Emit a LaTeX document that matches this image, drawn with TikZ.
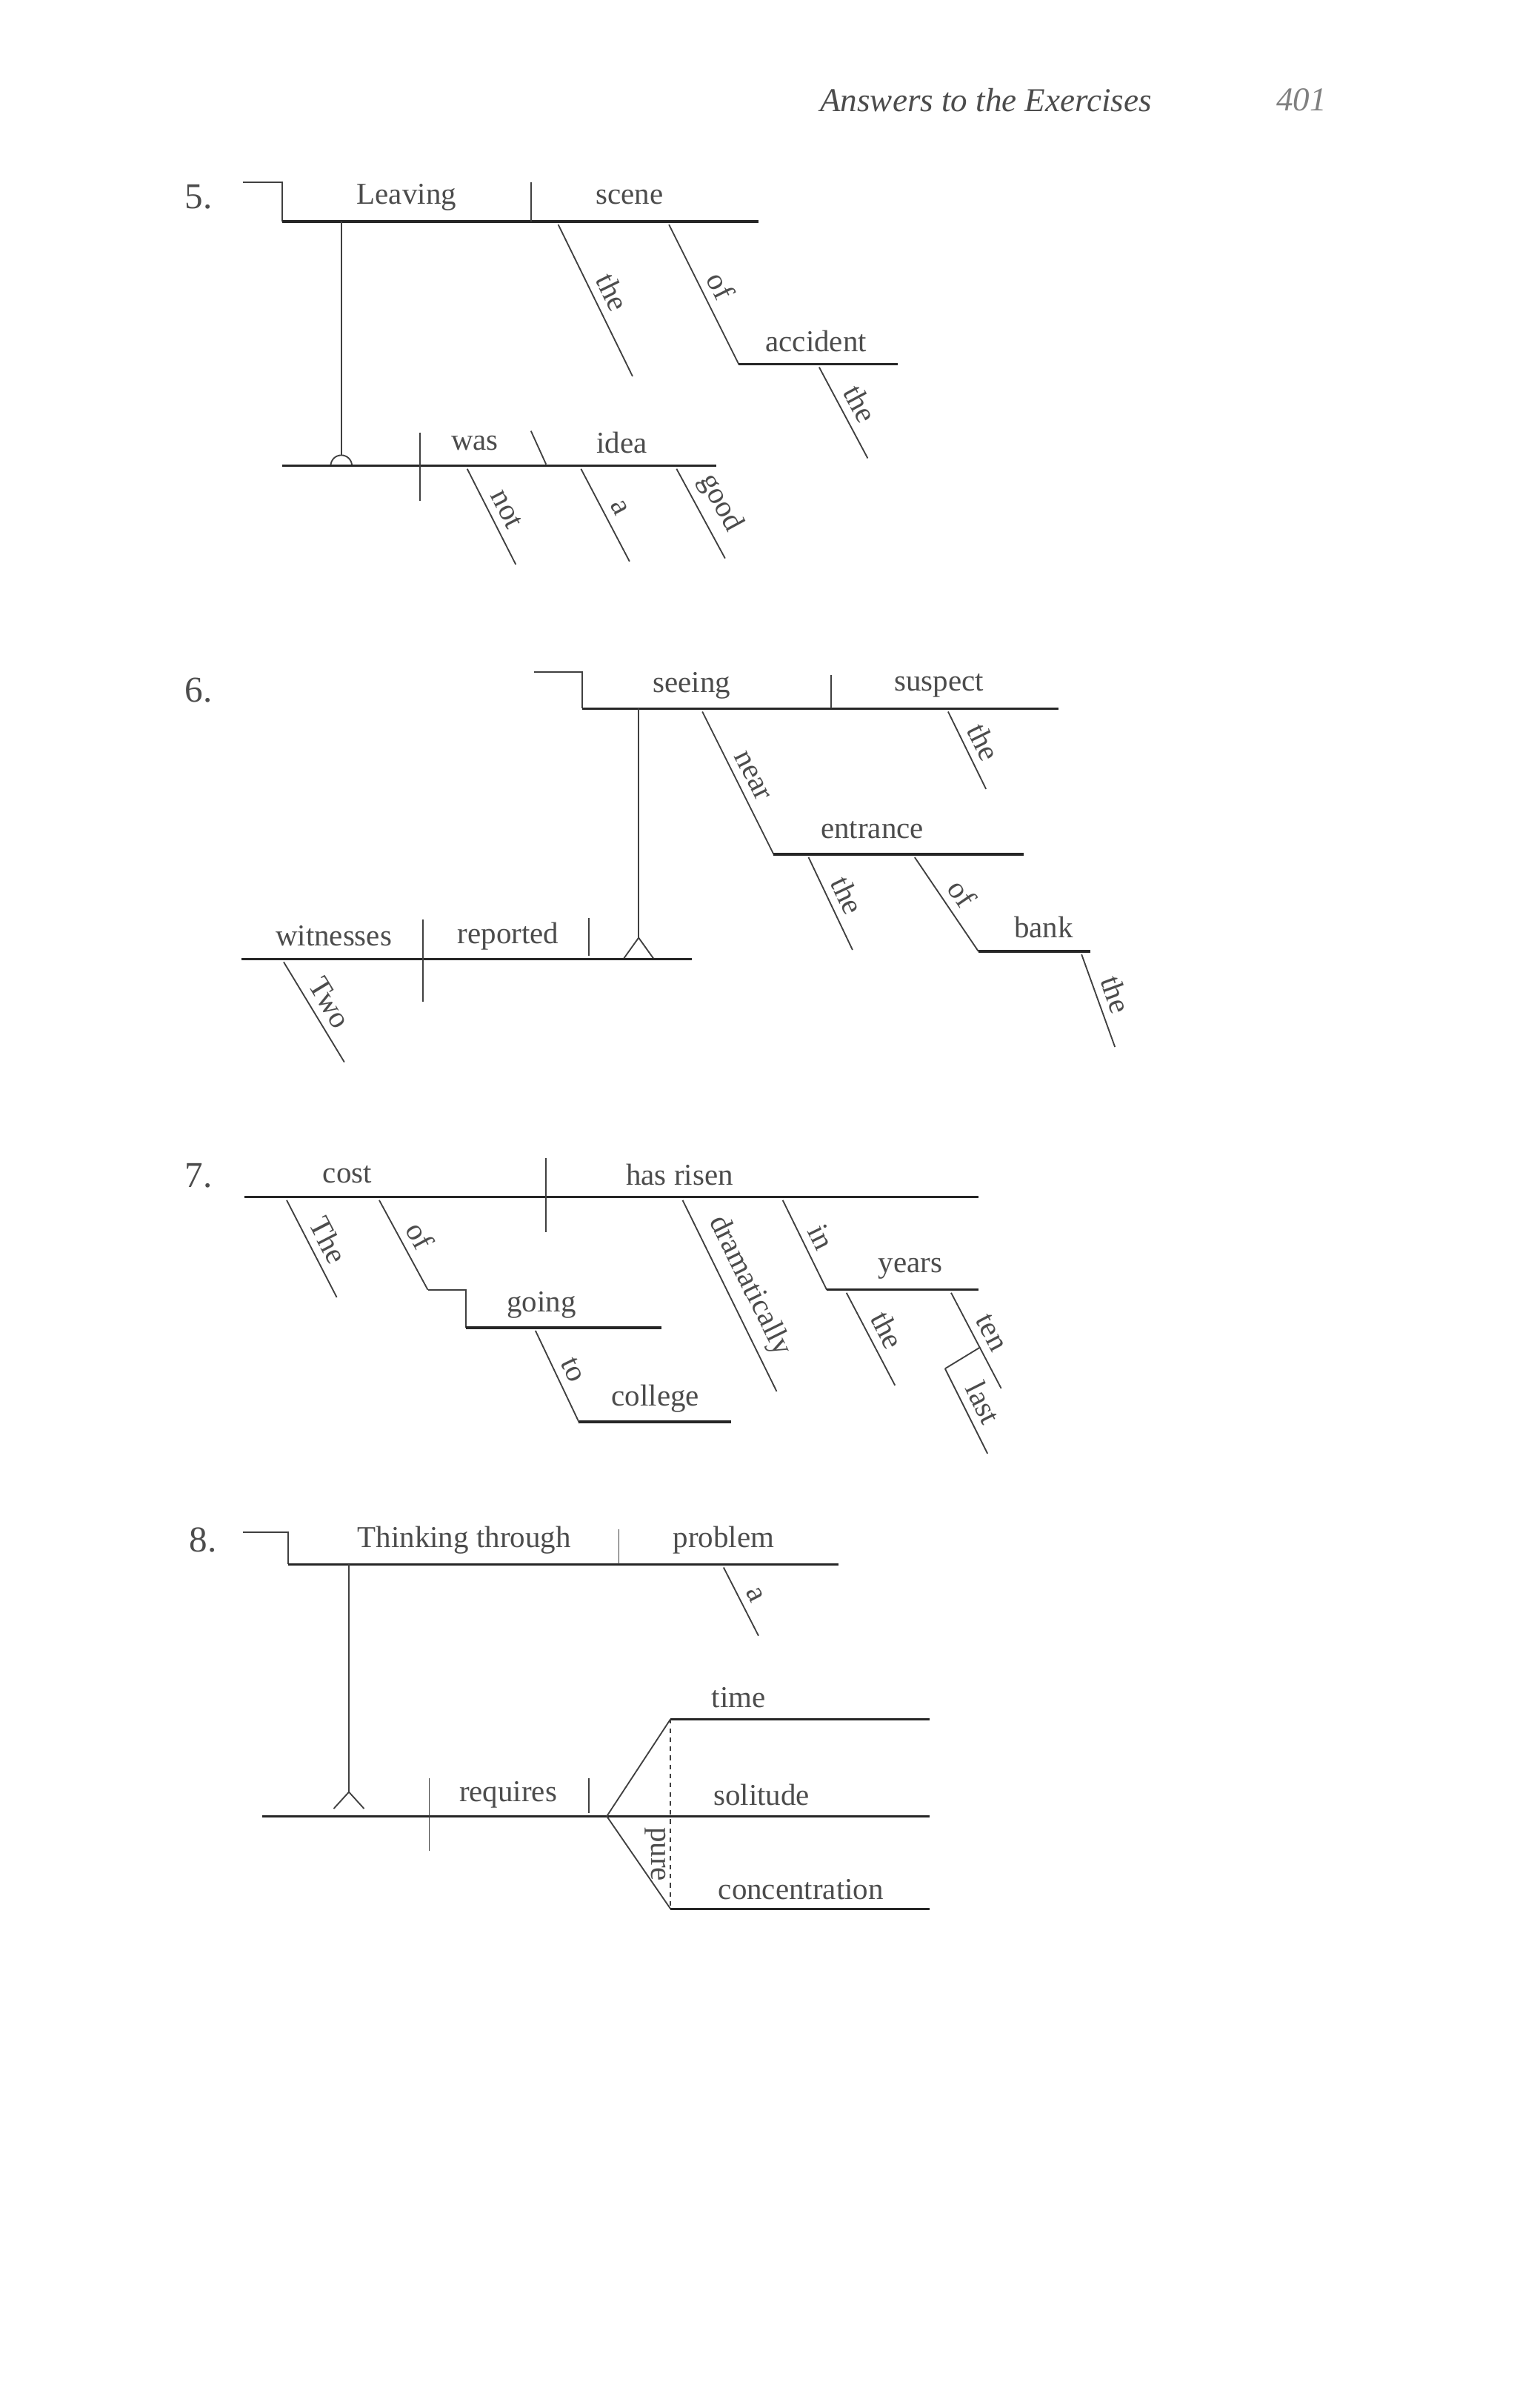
\documentclass[tikz,border=0pt]{standalone}
\usepackage{fontspec}
\setmainfont{Liberation Serif}
\begin{document}
\begin{tikzpicture}[x=1pt,y=-1pt,
  base/.style={line width=1.6pt,draw=black!85},
  thin/.style={line width=0.9pt,draw=black!75},
  w/.style={font=\fontsize{20}{20}\selectfont,text=black!70,inner sep=0pt},
  dg/.style={thin},
  lab/.style={w,sloped,above=5pt,midway}]
\useasboundingbox[fill=white] (0,0) rectangle (1000,1587);
\node[w,font=\itshape\fontsize{22}{22}\selectfont] (hd) at (650,66) {Answers to the Exercises};
\node[w,font=\itshape\fontsize{22}{22}\selectfont,text=black!50] (pg) at (858,66) {401};
% ---------- 5
\node[w,font=\fontsize{24}{24}\selectfont] (n5) at (131,130) {5.};
\draw[thin] (160,120) -- (186,120) -- (186,146);
\draw[base] (186,146) -- (500,146);
\node[w] (leaving) at (268,130) {Leaving};
\draw[thin] (350,120) -- (350,146);
\node[w] (scene) at (415,130) {scene};
\draw[dg] (368,148) -- (417,248) node[lab]{the};
\draw[dg] (441,148) -- (487,240) node[lab]{of};
\draw[base] (487,240) -- (592,240);
\node[w] (accident) at (538,225) {accident};
\draw[dg] (540,242) -- (572,302) node[lab]{the};
\draw[thin] (225,146) -- (225,300);
\draw[thin] (218,307) arc (180:360:7);
\draw[base] (186,307) -- (472,307);
\draw[thin] (277,285) -- (277,330);
\node[w] (was) at (313,292) {was};
\draw[thin] (350,284) -- (360,306);
\node[w] (idea) at (410,292) {idea};
\draw[dg] (308,309) -- (340,372) node[lab]{not};
\draw[dg] (383,309) -- (415,370) node[lab]{a};
\draw[dg] (446,309) -- (478,368) node[lab]{good};
% ---------- 6
\node[w,font=\fontsize{24}{24}\selectfont] (n6) at (131,455) {6.};
\draw[thin] (352,443) -- (384,443) -- (384,467);
\draw[base] (384,467) -- (698,467);
\node[w] (seeing) at (456,452) {seeing};
\draw[thin] (548,445) -- (548,467);
\node[w] (suspect) at (619,452) {suspect};
\draw[dg] (625,469) -- (650,520) node[lab]{the};
\draw[dg] (463,469) -- (510,563) node[lab]{near};
\draw[base] (510,563) -- (675,563);
\node[w] (entrance) at (575,547) {entrance};
\draw[dg] (533,565) -- (562,626) node[lab]{the};
\draw[dg] (603,565) -- (645,627) node[lab]{of};
\draw[base] (645,627) -- (719,627);
\node[w] (bank) at (688,611) {bank};
\draw[dg] (713,629) -- (735,690) node[lab]{the};
\draw[thin] (421,467) -- (421,618);
\draw[thin] (411,632) -- (421,618) -- (431,632);
\draw[base] (159,632) -- (456,632);
\node[w] (witnesses) at (220,617) {witnesses};
\draw[thin] (279,606) -- (279,660);
\node[w] (reported) at (335,617) {reported};
\draw[thin] (388,605) -- (388,630);
\draw[dg] (187,634) -- (227,700) node[lab]{Two};
% ---------- 7
\node[w,font=\fontsize{24}{24}\selectfont] (n7) at (131,775) {7.};
\draw[base] (161,789) -- (645,789);
\node[w] (cost) at (229,774) {cost};
\draw[thin] (360,763) -- (360,812);
\node[w] (hasrisen) at (448,774) {has risen};
\draw[dg] (189,791) -- (222,855) node[lab]{The};
\draw[dg] (250,791) -- (282,850) node[lab]{of};
\draw[thin] (282,850) -- (307,850) -- (307,875);
\draw[base] (307,875) -- (436,875);
\node[w] (going) at (357,860) {going};
\draw[dg] (353,877) -- (382,938) node[lab]{to};
\draw[base] (382,937) -- (482,937);
\node[w] (college) at (432,922) {college};
\draw[dg] (450,791) -- (512,917) node[lab]{dramatically};
\draw[dg] (516,791) -- (545,850) node[lab]{in};
\draw[base] (545,850) -- (645,850);
\node[w] (years) at (600,836) {years};
\draw[dg] (558,852) -- (590,913) node[lab]{the};
\draw[dg] (627,852) -- (660,915) node[lab]{ten};
\draw[thin] (646,888) -- (623,902);
\draw[dg] (623,902) -- (651,958) node[lab]{last};
% ---------- 8
\node[w,font=\fontsize{24}{24}\selectfont] (n8) at (134,1015) {8.};
\draw[thin] (160,1010) -- (190,1010) -- (190,1031);
\draw[base] (190,1031) -- (553,1031);
\node[w] (thinking) at (306,1015) {Thinking through};
\draw[thin] (408,1008) -- (408,1031);
\node[w] (problem) at (477,1015) {problem};
\draw[dg] (477,1033) -- (500,1078) node[lab]{a};
\draw[thin] (230,1031) -- (230,1181);
\draw[thin] (220,1192) -- (230,1181) -- (240,1192);
\draw[base] (173,1197) -- (613,1197);
\draw[thin] (283,1172) -- (283,1220);
\node[w] (requires) at (335,1183) {requires};
\draw[thin] (388,1172) -- (388,1195);
\draw[thin] (400,1197) -- (442,1133);
\draw[base] (442,1133) -- (613,1133);
\node[w] (time) at (487,1119) {time};
\node[w] (solitude) at (502,1183) {solitude};
\draw[thin] (400,1197) -- (442,1258);
\node[w,rotate=-90] (pure) at (432,1222) {pure};
\draw[base] (442,1258) -- (613,1258);
\node[w] (conc) at (528,1245) {concentration};
\draw[thin,dashed] (442,1133) -- (442,1258);
\end{tikzpicture}
\end{document}
